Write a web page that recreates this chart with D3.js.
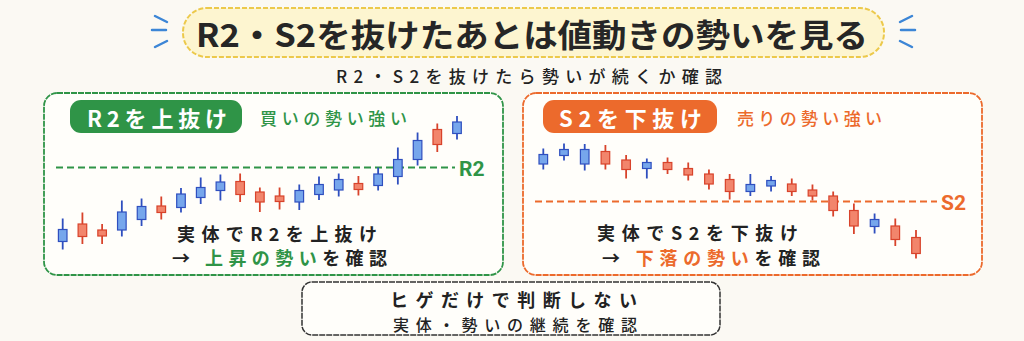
<!DOCTYPE html>
<html>
<head>
<meta charset="utf-8">
<script src="https://cdn.jsdelivr.net/npm/d3@7"></script>
<style>
  body { margin: 0; background: #fbf9f3; }
  svg { display: block; font-family: "Noto Sans CJK JP", "Noto Sans", sans-serif; }
</style>
</head>
<body>
<svg id="chart"></svg>
<script>
// candle data: [open, high, low, close]
const upCandles = [
  [108.5, 131.5, 100.5, 120.5], [126, 137.5, 106, 113.5], [120, 126, 106, 114],
  [120, 149.5, 113.5, 138], [130.5, 151.5, 124, 143.5], [144, 153.5, 130.5, 137.5],
  [142.5, 162, 137.5, 156], [152.5, 172.5, 146, 162.5], [159.5, 175.5, 149.5, 168],
  [168.5, 176.5, 148, 155.5], [158, 162.5, 138, 148], [154, 162.5, 140.5, 148.5],
  [148, 165.5, 140, 159.5], [155.5, 173.5, 150, 165.5], [160, 176.5, 153.5, 170.5],
  [166.5, 174, 154.5, 160.5], [164.5, 182.5, 159.5, 176], [173.5, 202.5, 165.5, 190.5],
  [190.5, 217.5, 184.5, 209.5], [220.5, 226.5, 198, 205.5], [216.5, 234, 210.5, 228]
];
const downCandles = [
  [186, 201.5, 180.5, 195.5], [194.5, 206.5, 189.5, 200.5], [186, 206, 179.5, 200.5],
  [198.5, 205, 180.5, 186], [190, 195, 171.5, 180.5], [181.5, 191.5, 171.5, 187.5],
  [187.5, 192.5, 176, 180.5], [181.5, 187.5, 169.5, 175], [176, 180.5, 160.5, 166],
  [170.5, 176, 150.5, 158.5], [158.5, 176, 154, 165.5], [164, 174, 158.5, 169.5],
  [166, 171.5, 154, 158.5], [160, 165.5, 149.5, 154], [154, 158.5, 133.5, 139.5],
  [139.5, 146.5, 116, 124], [123.5, 136.5, 116.5, 130.5], [124, 131.5, 104, 110.5],
  [112.5, 120, 91.5, 96.5]
];
const levelR2 = 182.5;
const levelS2 = 148.5;

const titleText = "R2・S2を抜けたあとは値動きの勢いを見る";
const subtitleText = "R2・S2を抜けたら勢いが続くか確認";
const noteLines = ["ヒゲだけで判断しない", "実体・勢いの継続を確認"];

const W = 1024, H = 341;
const green = "#2f9447", orange = "#ec6a2c";
const upFill = "#76a6ec", upLine = "#2f4fbf";
const dnFill = "#f2856c", dnLine = "#d8432b";

const svg = d3.select("#chart").attr("width", W).attr("height", H);
svg.append("rect").attr("width", W).attr("height", H).attr("fill", "#fbf9f3");

// shared price scale
const y = d3.scaleLinear().domain([90, 240]).range([260, 110]);

// ---- title
svg.append("rect")
  .attr("x", 183).attr("y", 8).attr("width", 701).attr("height", 49).attr("rx", 24)
  .attr("fill", "#fdf5d0").attr("stroke", "#ecc94b").attr("stroke-width", 2)
  .attr("stroke-dasharray", "5,2");
svg.append("text")
  .attr("x", 196).attr("y", 33).attr("dominant-baseline", "central")
  .attr("font-size", 32).attr("font-weight", 700).attr("fill", "#262626")
  .attr("textLength", 672).attr("lengthAdjust", "spacingAndGlyphs")
  .text(titleText);

// sparkle strokes either side of title
const sparks = [[[155, 16], [167, 22]], [[152, 30], [166, 30]], [[155, 47], [167, 41]]];
[0, 1].forEach(side => {
  sparks.forEach(s => {
    const fx = x => side ? 1067 - x : x;
    svg.append("line")
      .attr("x1", fx(s[0][0])).attr("y1", s[0][1])
      .attr("x2", fx(s[1][0])).attr("y2", s[1][1])
      .attr("stroke", "#3c86d6").attr("stroke-width", 2.5).attr("stroke-linecap", "round");
  });
});

svg.append("text")
  .attr("x", 336).attr("y", 75).attr("dominant-baseline", "central")
  .attr("font-size", 17).attr("font-weight", 500).attr("fill", "#222")
  .attr("textLength", 386).attr("lengthAdjust", "spacing")
  .text(subtitleText);

// ---- panel drawing
function panel(cfg) {
  const g = svg.append("g");
  g.append("rect")
    .attr("x", cfg.x0).attr("y", 93).attr("width", cfg.x1 - cfg.x0).attr("height", 182)
    .attr("rx", 13).attr("fill", "#fffefa")
    .attr("stroke", cfg.color).attr("stroke-width", 1.8).attr("stroke-dasharray", "6,1");

  // pill label
  g.append("rect")
    .attr("x", cfg.pill[0]).attr("y", 100).attr("width", cfg.pill[1] - cfg.pill[0])
    .attr("height", 33).attr("rx", 11).attr("fill", cfg.color);
  g.append("text")
    .attr("x", cfg.pillText[0]).attr("y", 117).attr("dominant-baseline", "central")
    .attr("font-size", 22).attr("font-weight", 700).attr("fill", "#fff")
    .attr("textLength", cfg.pillText[1] - cfg.pillText[0]).attr("lengthAdjust", "spacing")
    .text(cfg.label);
  g.append("text")
    .attr("x", cfg.sub[0]).attr("y", 117).attr("dominant-baseline", "central")
    .attr("font-size", 17).attr("font-weight", 500).attr("fill", cfg.color)
    .attr("textLength", cfg.sub[1] - cfg.sub[0]).attr("lengthAdjust", "spacing")
    .text(cfg.subText);

  // level line
  g.append("line")
    .attr("x1", cfg.line[0]).attr("x2", cfg.line[1])
    .attr("y1", y(cfg.level)).attr("y2", y(cfg.level))
    .attr("stroke", cfg.color).attr("stroke-width", 2).attr("stroke-dasharray", "7,4");
  g.append("text")
    .attr("x", cfg.line[1] + 4).attr("y", y(cfg.level) + 1).attr("dominant-baseline", "central")
    .attr("font-size", 21).attr("font-weight", 700).attr("fill", cfg.color)
    .attr("font-family", "Roboto, 'Noto Sans', sans-serif")
    .text(cfg.levelName);

  // candles
  const x = d3.scalePoint().domain(d3.range(cfg.data.length)).range(cfg.xr);
  const c = g.selectAll(".candle").data(cfg.data).join("g").attr("class", "candle");
  c.append("line")
    .attr("x1", (d, i) => x(i)).attr("x2", (d, i) => x(i))
    .attr("y1", d => y(d[1])).attr("y2", d => y(d[2]))
    .attr("stroke", d => d[3] >= d[0] ? upLine : dnLine).attr("stroke-width", 1.8);
  c.append("rect")
    .attr("x", (d, i) => x(i) - 4.3).attr("width", 8.6)
    .attr("y", d => y(Math.max(d[0], d[3])))
    .attr("height", d => Math.abs(y(d[0]) - y(d[3])))
    .attr("fill", d => d[3] >= d[0] ? upFill : dnFill)
    .attr("stroke", d => d[3] >= d[0] ? upLine : dnLine).attr("stroke-width", 1.2);

  // explanatory text
  g.append("text")
    .attr("x", cfg.t1[0]).attr("y", cfg.t1[2]).attr("dominant-baseline", "central")
    .attr("font-size", 18).attr("font-weight", 700).attr("fill", "#222")
    .attr("textLength", cfg.t1[1] - cfg.t1[0]).attr("lengthAdjust", "spacing")
    .text(cfg.line1);
  const t2 = g.append("text")
    .attr("x", cfg.t2[0]).attr("y", cfg.t2[2]).attr("dominant-baseline", "central")
    .attr("font-size", 18).attr("font-weight", 700).attr("fill", "#222")
    .attr("textLength", cfg.t2[1] - cfg.t2[0]).attr("lengthAdjust", "spacing");
  t2.append("tspan").text("→ ");
  t2.append("tspan").attr("fill", cfg.color).text(cfg.hl);
  t2.append("tspan").text("を確認");
}

panel({
  x0: 44, x1: 503, color: green, data: upCandles, xr: [62.7, 457],
  pill: [70, 242], pillText: [87, 227], label: "R2を上抜け",
  sub: [260, 407], subText: "買いの勢い強い",
  level: levelR2, levelName: "R2", line: [56, 455],
  t1: [177, 377, 233], line1: "実体でR2を上抜け",
  t2: [172, 387, 257], hl: "上昇の勢い"
});
panel({
  x0: 523, x1: 982, color: orange, data: downCandles, xr: [543.3, 916],
  pill: [543, 717], pillText: [559, 702], label: "S2を下抜け",
  sub: [737, 882], subText: "売りの勢い強い",
  level: levelS2, levelName: "S2", line: [535, 937],
  t1: [597, 798, 232], line1: "実体でS2を下抜け",
  t2: [602, 820, 257], hl: "下落の勢い"
});

// ---- bottom note
svg.append("rect")
  .attr("x", 302).attr("y", 282).attr("width", 418).attr("height", 53).attr("rx", 10)
  .attr("fill", "#fffefa").attr("stroke", "#333").attr("stroke-width", 1.5)
  .attr("stroke-dasharray", "6,1");
noteLines.forEach((t, i) => {
  svg.append("text")
    .attr("x", i ? 393 : 390).attr("y", i ? 324 : 299).attr("dominant-baseline", "central")
    .attr("font-size", i ? 16 : 18).attr("font-weight", i ? 500 : 700).attr("fill", "#222")
    .attr("textLength", i ? 244 : 247).attr("lengthAdjust", "spacing")
    .text(t);
});
</script>
</body>
</html>
